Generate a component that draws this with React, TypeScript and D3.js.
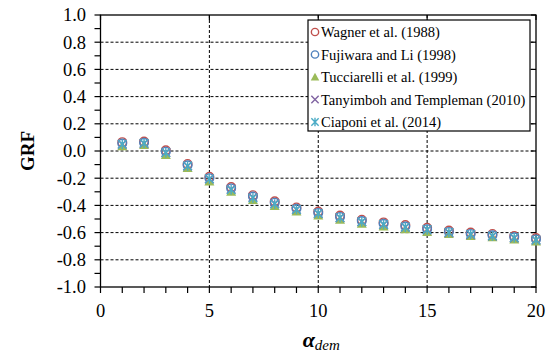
import * as d3 from 'd3';

const W = 550;
const H = 358;
const PLOT = { left: 100.5, right: 536, top: 15, bottom: 287 };

const alphaDem = [1, 2, 3, 4, 5, 6, 7, 8, 9, 10, 11, 12, 13, 14, 15, 16, 17, 18, 19, 20];

// GRF values, one array per study
const wagner = [0.065, 0.07, 0.005, -0.095, -0.19, -0.265, -0.325, -0.37, -0.415, -0.445, -0.475, -0.505, -0.525, -0.545, -0.565, -0.585, -0.6, -0.61, -0.625, -0.64];
const fujiwara = [0.055, 0.06, -0.005, -0.105, -0.2, -0.275, -0.335, -0.38, -0.425, -0.455, -0.485, -0.515, -0.535, -0.555, -0.575, -0.595, -0.61, -0.62, -0.635, -0.65];
const tucciarelli = [0.035, 0.045, -0.03, -0.125, -0.225, -0.3, -0.36, -0.405, -0.445, -0.475, -0.505, -0.535, -0.555, -0.575, -0.595, -0.61, -0.625, -0.635, -0.65, -0.665];
const tanyimboh = [0.05, 0.055, -0.01, -0.11, -0.205, -0.28, -0.34, -0.385, -0.43, -0.46, -0.49, -0.52, -0.54, -0.56, -0.58, -0.6, -0.615, -0.625, -0.64, -0.655];
const ciaponi = [0.05, 0.057, -0.012, -0.11, -0.205, -0.285, -0.345, -0.39, -0.43, -0.46, -0.49, -0.52, -0.54, -0.56, -0.578, -0.598, -0.612, -0.625, -0.637, -0.654];

const yTicks = [-1.0, -0.8, -0.6, -0.4, -0.2, 0.0, 0.2, 0.4, 0.6, 0.8, 1.0];
const yMinor = d3.range(-10, 11).map((d) => d / 10);
const yGrid = [-0.8, -0.6, -0.4, -0.2, 0.0, 0.2, 0.4, 0.6, 0.8];
const xTicks = [0, 5, 10, 15, 20];
const xMinor = d3.range(0, 21);
const xGrid = [5, 10, 15];

const SERIES = [
  { name: 'Wagner et al. (1988)', values: wagner, color: '#C0504D', shape: 'circle' },
  { name: 'Fujiwara and Li (1998)', values: fujiwara, color: '#4F81BD', shape: 'circle' },
  { name: 'Tucciarelli et al. (1999)', values: tucciarelli, color: '#9BBB59', shape: 'triangle' },
  { name: 'Tanyimboh and Templeman (2010)', values: tanyimboh, color: '#8064A2', shape: 'cross' },
  { name: 'Ciaponi et al. (2014)', values: ciaponi, color: '#4BACC6', shape: 'star' },
];

const FONT = '"Liberation Serif"';

const x = d3.scaleLinear().domain([0, 20]).range([PLOT.left, PLOT.right]);
const y = d3.scaleLinear().domain([-1, 1]).range([PLOT.bottom, PLOT.top]);
const fmt = d3.format('.1f');

function Marker({ shape, color, cx, cy, small = false }) {
  const k = small ? 0.85 : 1;
  if (shape === 'circle') {
    return <circle cx={cx} cy={cy} r={4.3 * k} fill="none" stroke={color} strokeWidth={1.4} />;
  }
  if (shape === 'triangle') {
    const h = 5 * k;
    return <path d={`M${cx},${cy - h}L${cx + h},${cy + h * 0.8}L${cx - h},${cy + h * 0.8}Z`} fill={color} />;
  }
  const s = 4.3 * k;
  const xPath = `M${cx - s},${cy - s}L${cx + s},${cy + s}M${cx - s},${cy + s}L${cx + s},${cy - s}`;
  const d = shape === 'cross' ? xPath : `${xPath}M${cx},${cy - s - 0.5}L${cx},${cy + s + 0.5}`;
  return <path d={d} stroke={color} strokeWidth={1.4} fill="none" />;
}

export default function App() {
  return (
    <svg width={W} height={H} style={{ position: 'absolute', left: 0, top: 0, background: '#fff' }}>
      {/* grid */}
      {yGrid.map((v) => (
        <line key={`gy${v}`} x1={PLOT.left} x2={PLOT.right} y1={y(v)} y2={y(v)}
          stroke="#000" strokeWidth={1} strokeDasharray="3,2" />
      ))}
      {xGrid.map((v) => (
        <line key={`gx${v}`} x1={x(v)} x2={x(v)} y1={PLOT.top} y2={PLOT.bottom}
          stroke="#000" strokeWidth={1} strokeDasharray="3,2" />
      ))}

      {/* frame */}
      <rect x={PLOT.left} y={PLOT.top} width={PLOT.right - PLOT.left} height={PLOT.bottom - PLOT.top}
        fill="none" stroke="#000" strokeWidth={1.3} />

      {/* ticks */}
      {yMinor.map((v) => (
        <line key={`ly${v}`} x1={PLOT.left - 6} x2={PLOT.left} y1={y(v)} y2={y(v)} stroke="#000" strokeWidth={1.2} />
      ))}
      {yTicks.map((v) => (
        <line key={`ry${v}`} x1={PLOT.right - 5} x2={PLOT.right} y1={y(v)} y2={y(v)} stroke="#000" strokeWidth={1.2} />
      ))}
      {xMinor.map((v) => (
        <line key={`bx${v}`} x1={x(v)} x2={x(v)} y1={PLOT.bottom} y2={PLOT.bottom + 6} stroke="#000" strokeWidth={1.2} />
      ))}
      {xTicks.map((v) => (
        <line key={`tx${v}`} x1={x(v)} x2={x(v)} y1={PLOT.top} y2={PLOT.top + 5} stroke="#000" strokeWidth={1.2} />
      ))}

      {/* tick labels */}
      {yTicks.map((v) => (
        <text key={`yl${v}`} x={86} y={y(v)} dy="0.35em" textAnchor="end"
          fontFamily={FONT} fontSize={18.5} fill="#000">
          {fmt(v).replace('−', '-')}
        </text>
      ))}
      {xTicks.map((v) => (
        <text key={`xl${v}`} x={x(v)} y={311} dy="0.35em" textAnchor="middle"
          fontFamily={FONT} fontSize={18.5} fill="#000">
          {v}
        </text>
      ))}

      {/* axis titles */}
      <text transform={`translate(34,${(PLOT.top + PLOT.bottom) / 2}) rotate(-90)`} textAnchor="middle"
        fontFamily={FONT} fontWeight="bold" fontSize={19}>
        GRF
      </text>
      <text x={(PLOT.left + PLOT.right) / 2 + 3} y={347} textAnchor="middle" fontFamily={FONT} fontStyle="italic">
        <tspan fontWeight="bold" fontSize={22}>α</tspan>
        <tspan fontSize={15} dy={3}>dem</tspan>
      </text>

      {/* points */}
      {SERIES.map((s) => (
        <g key={s.name}>
          {s.values.map((v, i) => (
            <Marker key={i} shape={s.shape} color={s.color} cx={x(alphaDem[i])} cy={y(v)} />
          ))}
        </g>
      ))}

      {/* legend */}
      <g>
        <rect x={308} y={20} width={222} height={111} fill="#fff" stroke="#000" strokeWidth={1.2} />
        {SERIES.map((s, i) => {
          const cy = 32 + i * 22.5;
          return (
            <g key={s.name}>
              <Marker shape={s.shape} color={s.color} cx={315} cy={cy} small />
              <text x={321} y={cy} dy="0.35em" fontFamily={FONT} fontSize={14.5} fill="#000">
                {s.name}
              </text>
            </g>
          );
        })}
      </g>
    </svg>
  );
}
